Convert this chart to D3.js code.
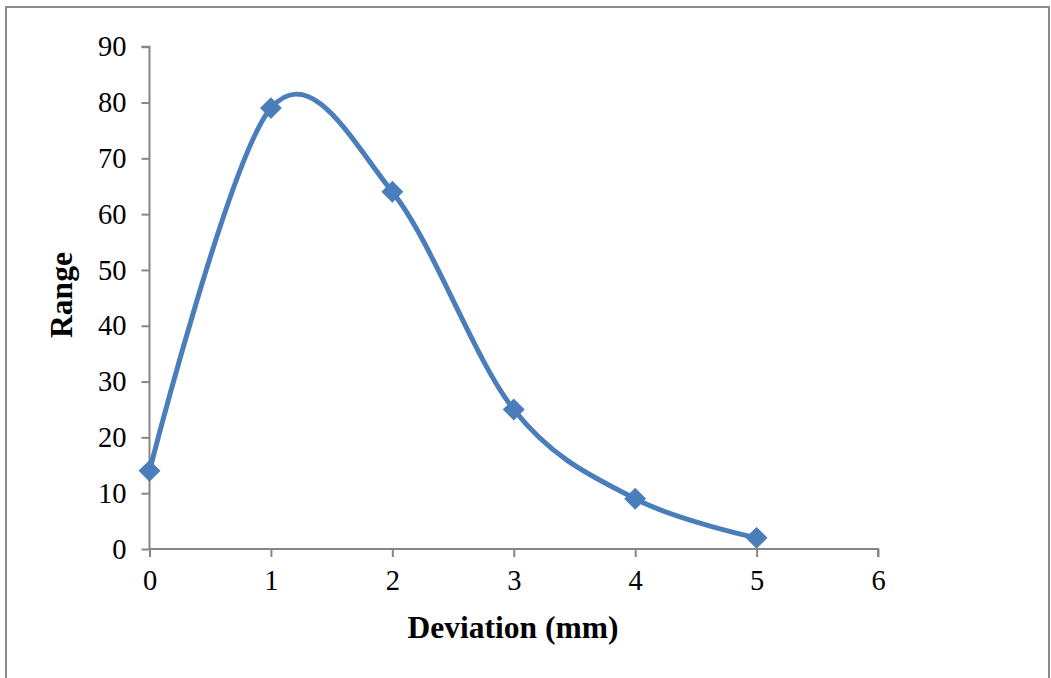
<!DOCTYPE html>
<html>
<head>
<meta charset="utf-8">
<script src="https://cdn.jsdelivr.net/npm/d3@7"></script>
<style>
  html, body { margin: 0; padding: 0; background: #fff; }
  svg { display: block; }
</style>
</head>
<body>
<svg id="chart" width="1051" height="678"></svg>
<script>
const deviation = [0, 1, 2, 3, 4, 5];
const range = [14, 79, 64, 25, 9, 2];
const xTicks = [0, 1, 2, 3, 4, 5, 6];
const yTicks = [0, 10, 20, 30, 40, 50, 60, 70, 80, 90];
const xTitle = "Deviation (mm)";
const yTitle = "Range";

const svg = d3.select("#chart");

// outer frame
svg.append("rect")
  .attr("x", 6).attr("y", 7)
  .attr("width", 1043).attr("height", 680)
  .attr("fill", "none").attr("stroke", "#8c8c8c").attr("stroke-width", 2);

const x = d3.scaleLinear().domain([0, 6]).range([149.5, 878]);
const y = d3.scaleLinear().domain([0, 90]).range([549, 46.7]);

const axisColor = "#868686";
const fontFam = "'Liberation Serif', 'Times New Roman', serif";

const yAxis = svg.append("g")
  .attr("transform", `translate(${x(0)},0)`)
  .call(d3.axisLeft(y).tickValues(yTicks).tickSize(8).tickPadding(15).tickFormat(d3.format("d")));
const xAxis = svg.append("g")
  .attr("transform", `translate(0,${y(0)})`)
  .call(d3.axisBottom(x).tickValues(xTicks).tickSize(8).tickPadding(13).tickFormat(d3.format("d")));

[yAxis, xAxis].forEach(g => {
  g.select(".domain").attr("stroke", axisColor).attr("stroke-width", 2);
  g.selectAll(".tick line").attr("stroke", axisColor).attr("stroke-width", 2);
  g.selectAll(".tick text")
    .attr("fill", "#000")
    .style("font-family", fontFam)
    .style("font-size", "28.5px");
});
yAxis.select(".domain").attr("d", `M-8,${y(90)}H0V${y(0)}`);
xAxis.select(".domain").attr("d", `M${x(0)},0H${x(6)}V8`);

const pts = deviation.map((d, i) => [d, range[i]]);
const line = d3.line()
  .x(d => x(d[0])).y(d => y(d[1]))
  .curve(d3.curveCardinal.tension(0));

svg.append("path")
  .datum(pts)
  .attr("d", line)
  .attr("fill", "none")
  .attr("stroke", "#4A7EBB")
  .attr("stroke-width", 5)
  .attr("stroke-linejoin", "round");

svg.append("g").selectAll("path")
  .data(pts)
  .join("path")
  .attr("d", d3.symbol().type(d3.symbolSquare).size(210)())
  .attr("transform", d => `translate(${x(d[0])},${y(d[1])}) rotate(45)`)
  .attr("fill", "#4A7EBB")
  .attr("stroke", "#4A7EBB")
  .attr("stroke-width", 1);

svg.append("text")
  .attr("x", 513).attr("y", 638)
  .attr("text-anchor", "middle")
  .style("font-family", fontFam)
  .style("font-size", "31.5px")
  .style("font-weight", "bold")
  .text(xTitle);

svg.append("text")
  .attr("transform", "translate(72,295) rotate(-90)")
  .attr("text-anchor", "middle")
  .style("font-family", fontFam)
  .style("font-size", "31.5px")
  .style("font-weight", "bold")
  .text(yTitle);
</script>
</body>
</html>
